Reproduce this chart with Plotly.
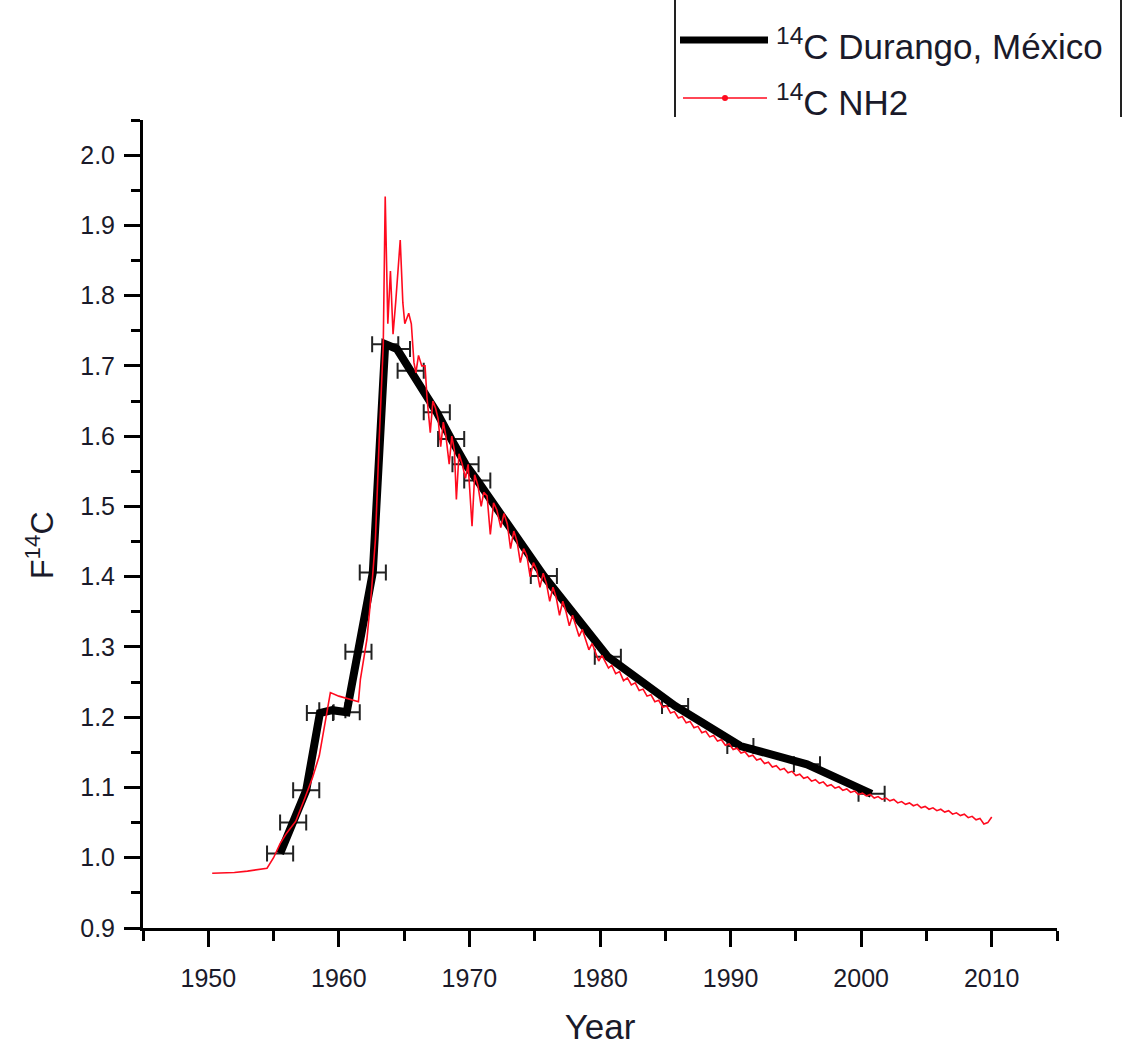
import plotly.graph_objects as go

# Durango, México tree-ring samples (year, F14C) with +/- 1 yr dating error
durango_year = [1955.5, 1956.5, 1957.5, 1958.55, 1959.5, 1960.6, 1961.5, 1962.6,
                1963.55, 1964.45, 1965.5, 1967.5, 1968.6, 1969.7, 1970.6,
                1975.7, 1980.6, 1985.75, 1990.75, 1995.85, 2000.8]
durango_f14c = [1.006, 1.050, 1.096, 1.206, 1.210, 1.207, 1.293, 1.406,
                1.731, 1.724, 1.693, 1.634, 1.596, 1.560, 1.537,
                1.401, 1.286, 1.216, 1.159, 1.133, 1.091]
durango_xerr = [1.0] * len(durango_year)

# NH2 atmospheric record
nh2_year = [1950.3, 1951.0, 1952.0, 1953.0, 1954.0, 1954.5, 1955.0, 1955.5, 1956.0,
            1956.7, 1957.4, 1958.0, 1958.5, 1959.0, 1959.35, 1960.0, 1960.6, 1961.0,
            1961.5, 1961.65, 1962.15, 1962.5, 1962.8, 1963.1, 1963.4, 1963.55,
            1963.75, 1963.95, 1964.15, 1964.35, 1964.7, 1964.9, 1965.05, 1965.35,
            1965.55, 1965.75, 1965.9, 1966.1, 1966.35, 1966.6, 1966.75, 1967.0,
            1967.2, 1967.4, 1967.6, 1967.8, 1968.0, 1968.2, 1968.45, 1968.65,
            1968.85, 1969.0, 1969.2, 1969.45, 1969.7, 1969.9, 1970.2, 1970.4,
            1970.65, 1970.9, 1971.1, 1971.35, 1971.6, 1971.85, 1972.1, 1972.4,
            1972.65, 1972.9, 1973.15, 1973.4, 1973.65, 1973.9, 1974.15, 1974.4,
            1974.65, 1974.9, 1975.15, 1975.4, 1975.65, 1975.9, 1976.15, 1976.4,
            1976.65, 1976.9, 1977.15, 1977.4, 1977.65, 1977.9, 1978.15, 1978.4,
            1978.65, 1978.9, 1979.15, 1979.4, 1979.65, 1979.9, 1980.15, 1980.4,
            1980.65, 1980.9, 1981.2, 1981.5, 1981.8, 1982.1, 1982.4, 1982.7,
            1983.0, 1983.3, 1983.6, 1983.9, 1984.2, 1984.5, 1984.8, 1985.1,
            1985.4, 1985.7, 1986.0, 1986.3, 1986.6, 1986.9, 1987.2, 1987.5,
            1987.8, 1988.1, 1988.4, 1988.7, 1989.0, 1989.3, 1989.6, 1989.9,
            1990.2, 1990.5, 1990.8, 1991.1, 1991.4, 1991.7, 1992.0, 1992.3,
            1992.6, 1992.9, 1993.2, 1993.5, 1993.8, 1994.1, 1994.4, 1994.7,
            1995.0, 1995.3, 1995.6, 1995.9, 1996.2, 1996.5, 1996.8, 1997.1,
            1997.4, 1997.7, 1998.0, 1998.3, 1998.6, 1998.9, 1999.2, 1999.5,
            1999.8, 2000.1, 2000.4, 2000.7, 2001.0, 2001.3, 2001.6, 2001.9,
            2002.2, 2002.5, 2002.8, 2003.1, 2003.4, 2003.7, 2004.0, 2004.3,
            2004.6, 2004.9, 2005.2, 2005.5, 2005.8, 2006.1, 2006.4, 2006.7,
            2007.0, 2007.3, 2007.6, 2007.9, 2008.2, 2008.5, 2008.8, 2009.1,
            2009.4, 2009.7, 2010.0]
nh2_f14c = [0.978, 0.978, 0.979, 0.981, 0.983, 0.985, 1.000, 1.020, 1.035,
            1.052, 1.085, 1.115, 1.145, 1.200, 1.235, 1.230, 1.227, 1.225,
            1.222, 1.254, 1.311, 1.380, 1.453, 1.600, 1.729, 1.941,
            1.760, 1.835, 1.745, 1.790, 1.879, 1.790, 1.760, 1.775,
            1.760, 1.705, 1.690, 1.715, 1.700, 1.700, 1.655, 1.605,
            1.650, 1.640, 1.625, 1.585, 1.620, 1.600, 1.560, 1.600,
            1.580, 1.510, 1.575, 1.560, 1.540, 1.560, 1.472, 1.545,
            1.530, 1.500, 1.520, 1.515, 1.460, 1.505, 1.495, 1.470,
            1.490, 1.475, 1.440, 1.465, 1.450, 1.420, 1.440, 1.430,
            1.400, 1.420, 1.410, 1.385, 1.405, 1.390, 1.365, 1.385,
            1.370, 1.345, 1.365, 1.350, 1.330, 1.345, 1.330, 1.315,
            1.325, 1.310, 1.296, 1.305, 1.292, 1.280, 1.288, 1.278,
            1.270, 1.274, 1.262, 1.265, 1.252, 1.256, 1.246, 1.249,
            1.238, 1.240, 1.230, 1.232, 1.222, 1.224, 1.214, 1.216,
            1.206, 1.208, 1.199, 1.201, 1.192, 1.194, 1.185, 1.187,
            1.178, 1.180, 1.172, 1.174, 1.166, 1.168, 1.160, 1.162,
            1.154, 1.156, 1.149, 1.151, 1.144, 1.146, 1.139, 1.141,
            1.134, 1.136, 1.129, 1.131, 1.125, 1.127, 1.121, 1.123,
            1.117, 1.119, 1.113, 1.115, 1.109, 1.111, 1.106, 1.108,
            1.102, 1.104, 1.099, 1.101, 1.096, 1.098, 1.093, 1.095,
            1.090, 1.092, 1.088, 1.090, 1.085, 1.087, 1.083, 1.085,
            1.081, 1.083, 1.078, 1.080, 1.076, 1.078, 1.074, 1.076,
            1.071, 1.073, 1.069, 1.071, 1.067, 1.069, 1.065, 1.067,
            1.062, 1.064, 1.060, 1.062, 1.057, 1.059, 1.054, 1.056,
            1.048, 1.050, 1.058]

x_ticks = [1950, 1960, 1970, 1980, 1990, 2000, 2010]
y_ticks = [0.9, 1.0, 1.1, 1.2, 1.3, 1.4, 1.5, 1.6, 1.7, 1.8, 1.9, 2.0]

FONT = "Liberation Sans, Arial, sans-serif"
TXT = "#1a1a2a"
RED = "#ff0a1e"
W, H = 1125, 1047
L, T, R, B = 143, 120, 1125 - 1057, 1047 - 928


def px(x):
    return (x - L) / (W - L - R)


def py(y):
    return (H - B - y) / (H - T - B)


fig = go.Figure()

fig.add_trace(go.Scatter(
    x=durango_year, y=durango_f14c,
    mode="lines",
    line=dict(color="black", width=8),
    error_x=dict(type="data", array=durango_xerr, color="#222222",
                 thickness=2, width=8),
    name="<sup>14</sup>C Durango, México",
    showlegend=False,
))

fig.add_trace(go.Scatter(
    x=nh2_year, y=nh2_f14c,
    mode="lines",
    line=dict(color=RED, width=1.6),
    name="<sup>14</sup>C NH2",
    showlegend=False,
))

# legend drawn by hand, Origin style (box runs off the top of the page)
for x0 in (675, 1121):
    fig.add_shape(type="line", xref="paper", yref="paper",
                  x0=px(x0), x1=px(x0), y0=py(-5), y1=py(117),
                  line=dict(color="#222222", width=2))
fig.add_shape(type="line", xref="paper", yref="paper",
              x0=px(680), x1=px(768), y0=py(40), y1=py(40),
              line=dict(color="black", width=7))
fig.add_shape(type="line", xref="paper", yref="paper",
              x0=px(683), x1=px(767), y0=py(98), y1=py(98),
              line=dict(color=RED, width=1.6))
fig.add_shape(type="circle", xref="paper", yref="paper",
              x0=px(722), x1=px(728), y0=py(95), y1=py(101),
              fillcolor=RED, line=dict(color=RED, width=0))
for label, yc in (("<sup>14</sup>C Durango, México", 44), ("<sup>14</sup>C NH2", 100)):
    fig.add_annotation(text=label, xref="paper", yref="paper",
                       x=px(774), y=py(yc), xanchor="left", yanchor="middle",
                       showarrow=False, font=dict(family=FONT, size=35, color=TXT))

# y title placed like Origin does it, a bit below the axis centre
fig.add_annotation(text="F<sup>14</sup>C", xref="paper", yref="paper",
                   x=px(40), y=py(545), textangle=-90, showarrow=False,
                   xanchor="center", yanchor="middle",
                   font=dict(family=FONT, size=32, color=TXT))

axis_common = dict(
    showline=True, linecolor="black", linewidth=3,
    ticks="outside", ticklen=16, tickwidth=3, tickcolor="black",
    showgrid=False, zeroline=False, mirror=False, automargin=False,
    tickfont=dict(family=FONT, size=25, color=TXT),
)

fig.update_xaxes(
    range=[1945, 2015], tickvals=x_ticks,
    minor=dict(dtick=5, tick0=1945, ticklen=10, tickwidth=3,
               ticks="outside", tickcolor="black"),
    ticklabelstandoff=10,
    title=dict(text="Year", font=dict(family=FONT, size=35, color=TXT),
               standoff=24),
    **axis_common,
)
fig.update_yaxes(
    range=[0.9, 2.05], tickvals=y_ticks, tickformat=".1f",
    minor=dict(dtick=0.05, tick0=0.9, ticklen=9, tickwidth=3,
               ticks="outside", tickcolor="black"),
    ticklabelstandoff=4,
    **axis_common,
)

fig.update_layout(
    width=W, height=H,
    margin=dict(l=L, r=R, t=T, b=B, autoexpand=False),
    plot_bgcolor="white", paper_bgcolor="white",
    font=dict(family=FONT),
)

# the page body's default 8px margin would shift the whole chart
fig.write_html("out.html", config={"displayModeBar": False},
               post_script="document.body.style.margin = '0';")
